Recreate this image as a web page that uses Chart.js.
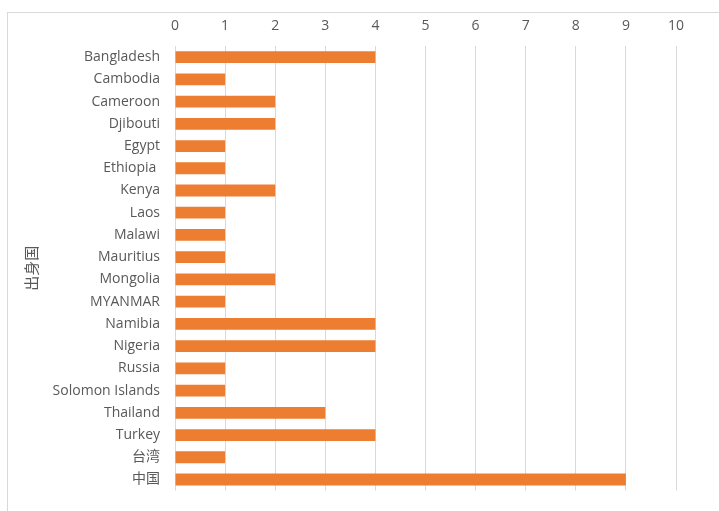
<!DOCTYPE html>
<html>
<head>
<meta charset="utf-8">
<script src="https://cdn.jsdelivr.net/npm/chart.js@4"></script>
<style>
  body { margin: 0; background: #fff; }
  #wrap { position: relative; width: 719px; height: 511px; overflow: hidden; }
  #frame { position: absolute; left: 7px; top: 12px; width: 730px; height: 520px; border: 1px solid #d9d9d9; }
  canvas { position: absolute; left: 0; top: 0; }
</style>
</head>
<body>
<div id="wrap">
  <div id="frame"></div>
  <canvas id="myChart" width="719" height="514"></canvas>
</div>
<script>
let countries = ['Bangladesh', 'Cambodia', 'Cameroon', 'Djibouti', 'Egypt', 'Ethiopia ', 'Kenya', 'Laos', 'Malawi', 'Mauritius',
    'Mongolia', 'MYANMAR', 'Namibia', 'Nigeria', 'Russia', 'Solomon Islands', 'Thailand', 'Turkey', '台湾', '中国'];
let counts = [4, 1, 2, 2, 1, 1, 2, 1, 1, 1, 2, 1, 4, 4, 1, 1, 3, 4, 1, 9];
let x_ticks = [0, 1, 2, 3, 4, 5, 6, 7, 8, 9, 10];
let axis_title = '出身国';

const fontFam = "'Open Sans', 'Noto Sans CJK SC', sans-serif";
const textColor = '#595959';

const ctx = document.getElementById('myChart').getContext('2d');
let myChart = new Chart(ctx, {
    type: 'bar',
    data: {
        labels: countries,
        datasets: [{
            data: counts,
            backgroundColor: '#ED7D31',
            borderWidth: 0,
            barPercentage: 0.53,
            categoryPercentage: 1
        }]
    },
    options: {
        indexAxis: 'y',
        responsive: false,
        animation: false,
        layout: { padding: { left: 0, top: 0, right: 43, bottom: 16 } },
        plugins: {
            legend: { display: false },
            tooltip: { enabled: false }
        },
        scales: {
            x: {
                position: 'top',
                min: x_ticks[0],
                max: x_ticks[x_ticks.length - 1],
                afterBuildTicks: scale => { scale.ticks = x_ticks.map(v => ({ value: v })); },
                afterFit: scale => { scale.height = 46; },
                grid: { color: '#d9d9d9', lineWidth: 1, drawTicks: false },
                border: { display: false },
                ticks: { color: textColor, font: { family: fontFam, size: 14 }, padding: 12 }
            },
            y: {
                afterFit: scale => { scale.width = 175; },
                grid: { display: false, drawTicks: false },
                border: { display: false },
                ticks: { color: textColor, font: { family: fontFam, size: 14 }, padding: 15, autoSkip: false },
                title: {
                    display: true,
                    text: axis_title,
                    color: textColor,
                    font: { family: fontFam, size: 15 },
                    padding: { top: 24, bottom: 0 }
                }
            }
        }
    }
});
</script>
</body>
</html>
